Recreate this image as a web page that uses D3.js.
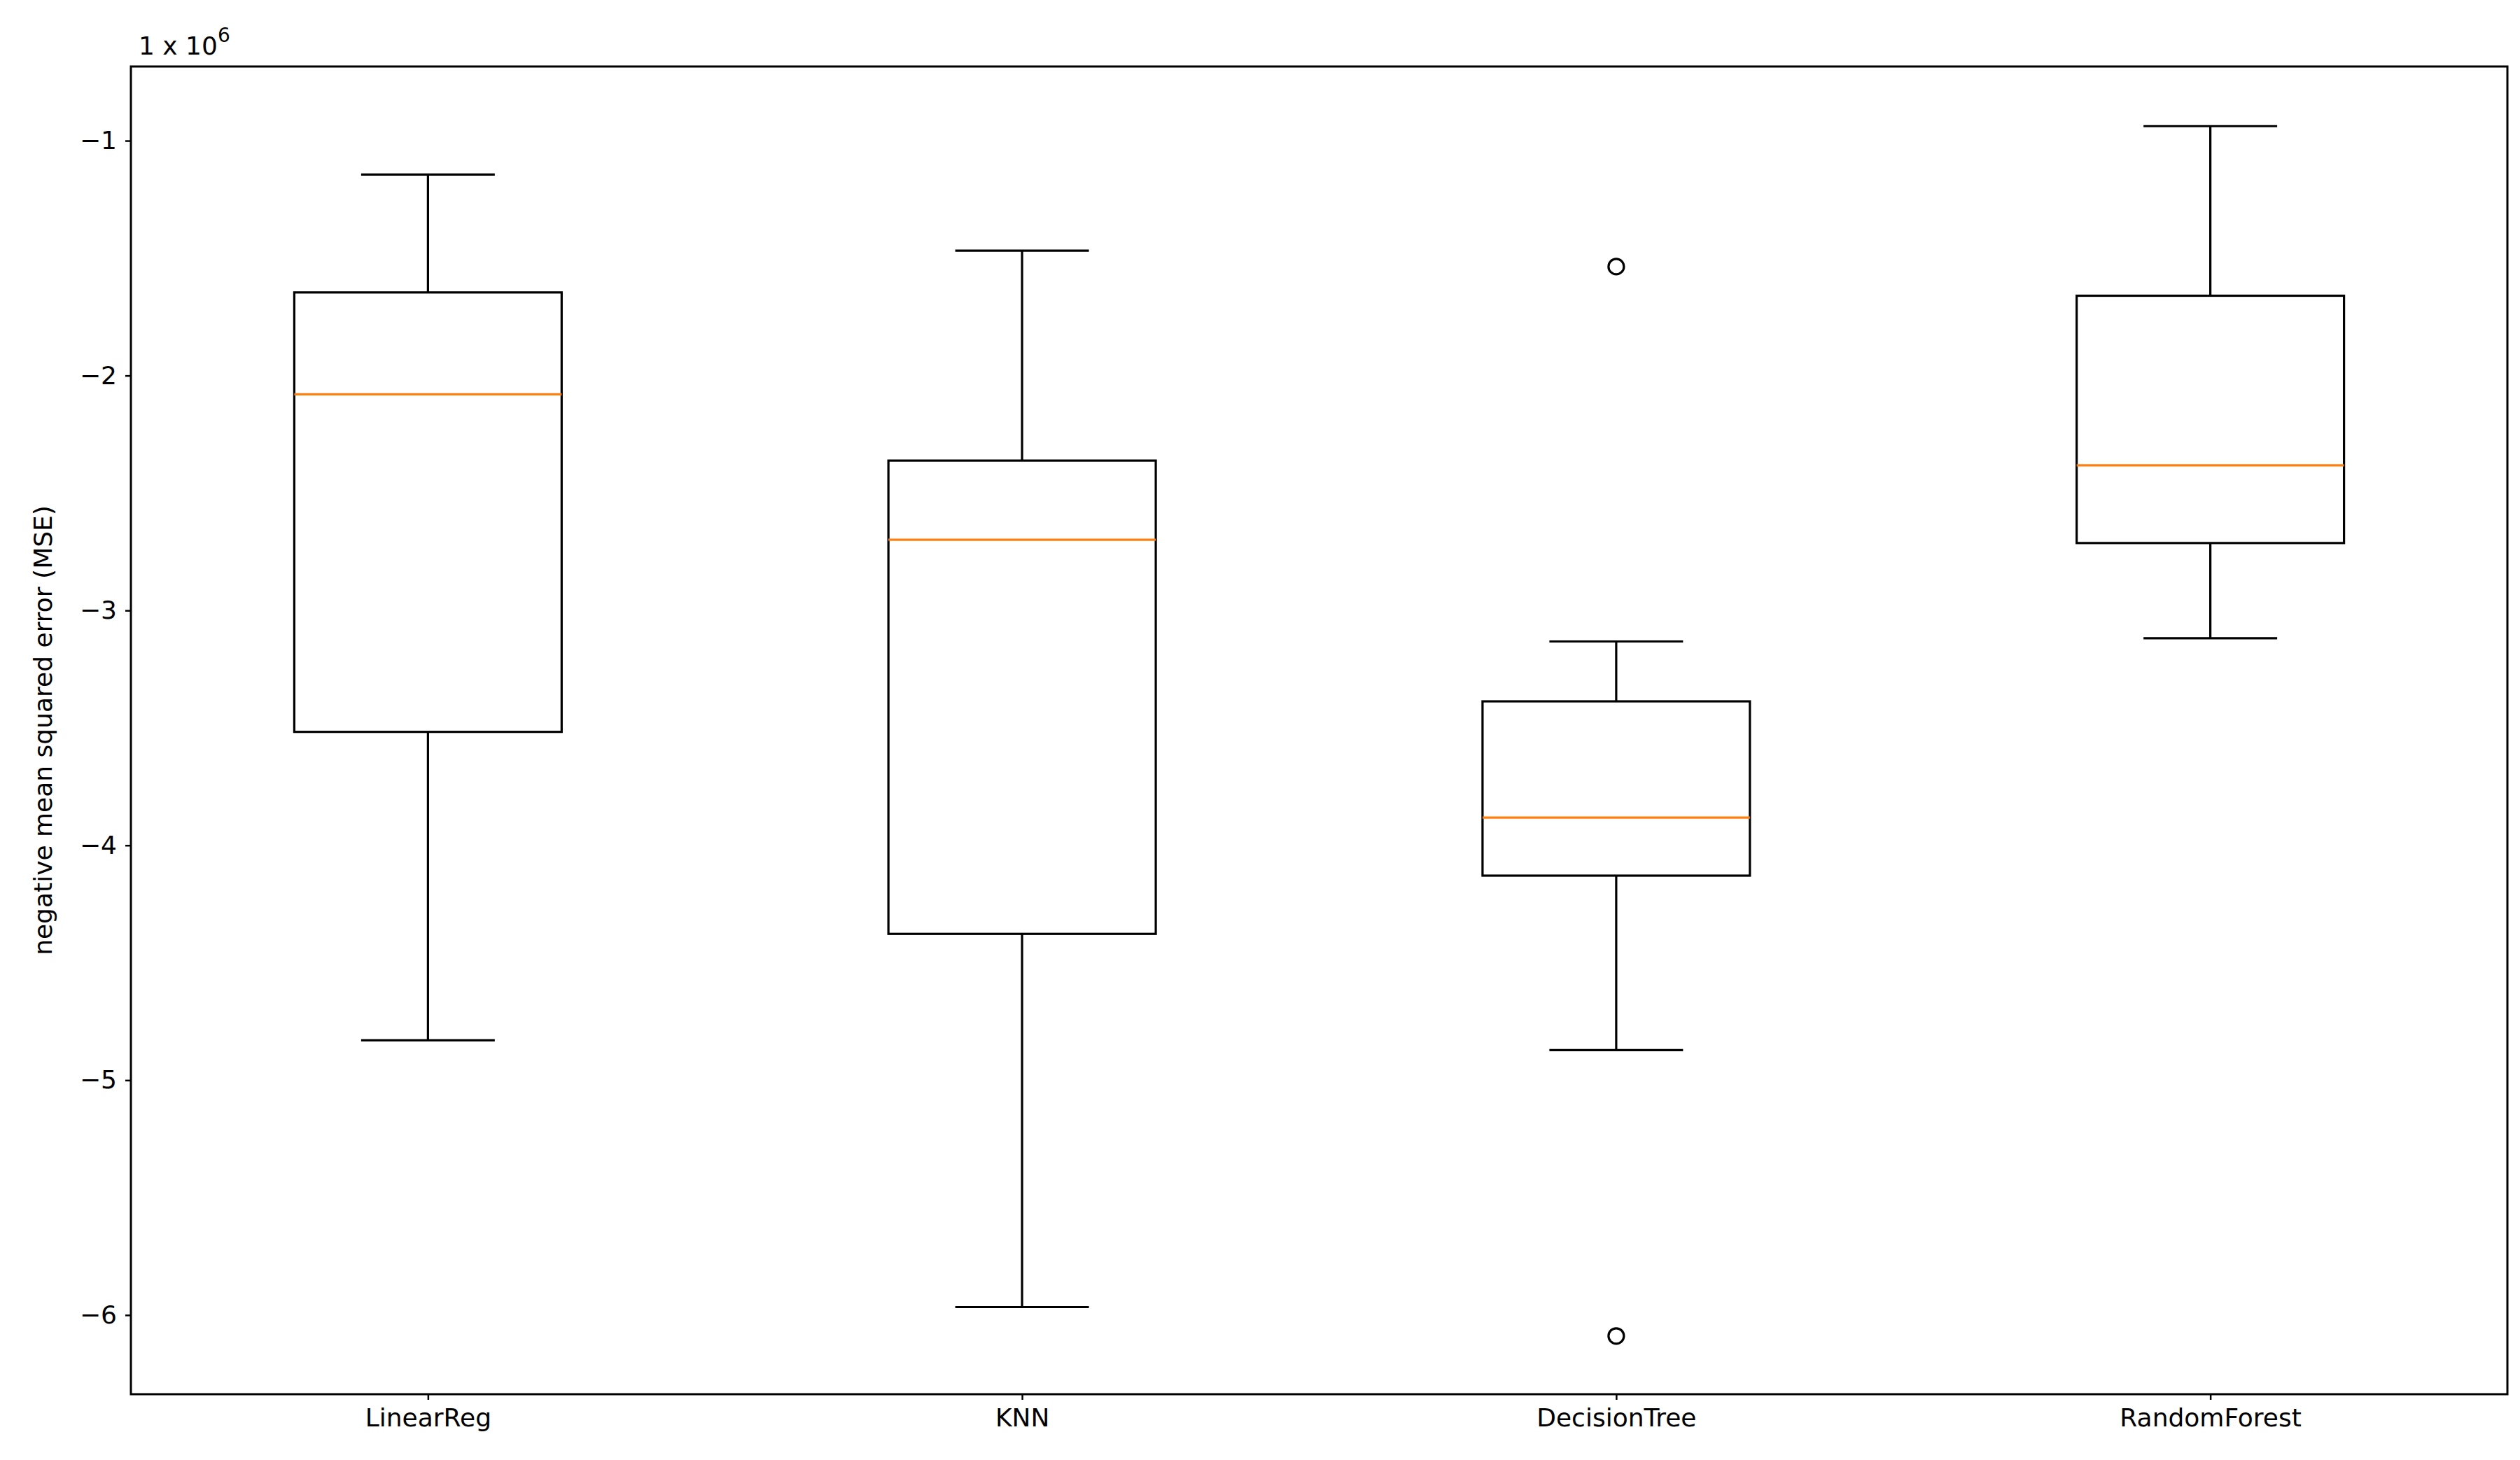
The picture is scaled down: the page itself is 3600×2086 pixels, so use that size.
<!DOCTYPE html>
<html><head><meta charset="utf-8">
<script src="https://cdn.jsdelivr.net/npm/d3@7"></script>
<style>body{margin:0;background:#fff}</style></head>
<body><svg id="c" width="3600" height="2086"></svg>
<script>
const categories = ["LinearReg","KNN","DecisionTree","RandomForest"];
const whiskerHigh = [-1.144,-1.468,-3.132,-0.938];
const q3 = [-1.646,-2.362,-3.387,-1.660];
const median = [-2.080,-2.699,-3.882,-2.382];
const q1 = [-3.517,-4.377,-4.129,-2.713];
const whiskerLow = [-4.830,-5.966,-4.872,-3.118];
const outliers = [[],[],[-1.536,-6.089],[]];
const yTicks = [-1,-2,-3,-4,-5,-6];

const svg = d3.select("#c");
const L=187,R=3582,T=95,B=1992;
const x = d3.scaleLinear().domain([0.5,4.5]).range([L,R]);
const y = d3.scaleLinear().domain([-6.337,-0.684]).range([B,T]);
const font = "DejaVu Sans, sans-serif";
const lw = 3.2;

const g = svg.append("g");
categories.forEach((c,i)=>{
  const cx = x(i+1), bw = x(0.45)-x(0), cw = bw/2;
  g.append("line").attr("x1",cx).attr("x2",cx).attr("y1",y(q3[i])).attr("y2",y(whiskerHigh[i])).attr("stroke","#000").attr("stroke-width",lw);
  g.append("line").attr("x1",cx).attr("x2",cx).attr("y1",y(q1[i])).attr("y2",y(whiskerLow[i])).attr("stroke","#000").attr("stroke-width",lw);
  [whiskerHigh[i],whiskerLow[i]].forEach(v=>g.append("line").attr("x1",cx-cw/2).attr("x2",cx+cw/2).attr("y1",y(v)).attr("y2",y(v)).attr("stroke","#000").attr("stroke-width",lw));
  g.append("rect").attr("x",cx-bw/2).attr("width",bw).attr("y",y(q3[i])).attr("height",y(q1[i])-y(q3[i])).attr("fill","none").attr("stroke","#000").attr("stroke-width",lw);
  g.append("line").attr("x1",cx-bw/2).attr("x2",cx+bw/2).attr("y1",y(median[i])).attr("y2",y(median[i])).attr("stroke","#ff7f0e").attr("stroke-width",lw);
  outliers[i].forEach(v=>g.append("circle").attr("cx",cx).attr("cy",y(v)).attr("r",11).attr("fill","none").attr("stroke","#000").attr("stroke-width",lw));
});

const ya = svg.append("g").attr("transform",`translate(${L},0)`)
  .call(d3.axisLeft(y).tickValues(yTicks).tickSize(8).tickPadding(12).tickFormat(d=>"\u2212"+Math.abs(d)));
const xa = svg.append("g").attr("transform",`translate(0,${B})`)
  .call(d3.axisBottom(x).tickValues([1,2,3,4]).tickSize(8).tickPadding(12).tickFormat(d=>categories[d-1]));
[ya,xa].forEach(a=>{a.select(".domain").remove();a.selectAll("line").attr("stroke-width",2.5);a.selectAll("text").attr("font-family",font).attr("font-size",36).attr("fill","#000");});
svg.append("rect").attr("x",L).attr("y",T).attr("width",R-L).attr("height",B-T).attr("fill","none").attr("stroke","#000").attr("stroke-width",3);

svg.append("text").attr("transform",`translate(74,${(T+B)/2}) rotate(-90)`).attr("text-anchor","middle")
  .attr("font-family",font).attr("font-size",36).text("negative mean squared error (MSE)");
const ot = svg.append("text").attr("x",198).attr("y",78).attr("font-family",font).attr("font-size",36).text("1 x 10");
ot.append("tspan").attr("dy",-18).attr("font-size",28).text("6");
</script></body></html>
